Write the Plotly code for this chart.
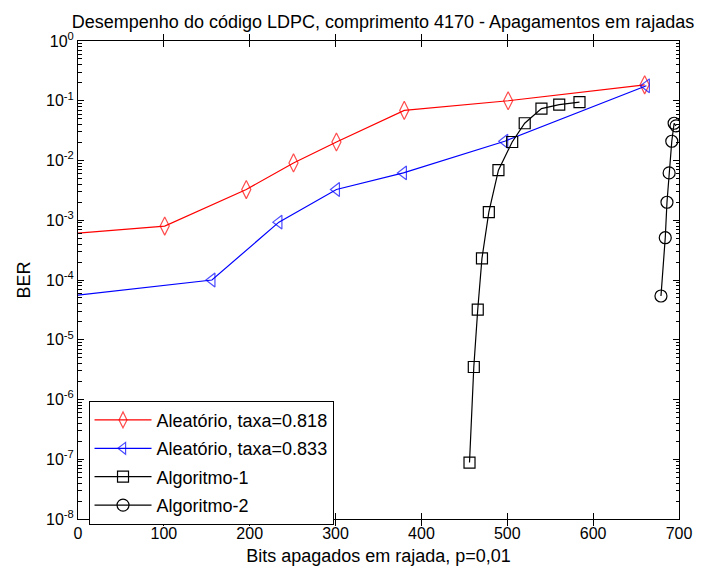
import plotly.graph_objects as go

# ---- data ----
x_r818 = [0, 101, 196, 251, 301, 380, 501, 660]
y_r818 = [6.1e-4, 8.0e-4, 3.27e-3, 9.1e-3, 2.04e-2, 6.9e-2, 1.0e-1, 1.85e-1]

x_r833 = [0, 156, 234, 301, 379, 497, 662]
y_r833 = [5.6e-5, 1.0e-4, 9.3e-4, 3.27e-3, 6.2e-3, 2.1e-2, 1.78e-1]

x_alg1 = [456, 461, 465.6, 470.5, 478.5, 489.7, 505.7, 520.3, 539.8, 560.5, 584.1]
y_alg1 = [8.8e-8, 3.5e-6, 3.2e-5, 2.3e-4, 1.37e-3, 6.9e-3, 2.04e-2, 4.2e-2, 7.4e-2, 8.6e-2, 9.5e-2]

x_alg2 = [679, 684, 686, 688.5, 691.6, 694.3, 696.5]
y_alg2 = [5.4e-5, 5.1e-4, 2.0e-3, 6.2e-3, 2.1e-2, 4.2e-2, 3.8e-2]

names = ["Aleatório, taxa=0.818", "Aleatório, taxa=0.833", "Algoritmo-1", "Algoritmo-2"]

x_ticks = [0, 100, 200, 300, 400, 500, 600, 700]
y_exps = [-8, -7, -6, -5, -4, -3, -2, -1, 0]
y_ticktext = ["10<sup>%d</sup>" % e for e in y_exps]

title_text = "Desempenho do código LDPC, comprimento 4170 - Apagamentos em rajadas"
x_title = "Bits apagados em rajada, p=0,01"
y_title = "BER"

FONT = "Liberation Sans, Arial, sans-serif"


def sizes(n, s, hide_first):
    out = [s] * n
    if hide_first:
        out[0] = 0
    return out


fig = go.Figure()
fig.add_trace(go.Scatter(x=x_r818, y=y_r818, mode="lines+markers", name=names[0],
                         legendgroup="a",
                         line=dict(color="#ff0000", width=1.2),
                         marker=dict(symbol="diamond-tall-open", size=sizes(len(x_r818), 13, True),
                                     color="#ff0000", line=dict(width=1.2))))
fig.add_trace(go.Scatter(x=x_r833, y=y_r833, mode="lines+markers", name=names[1],
                         legendgroup="b",
                         line=dict(color="#0000ff", width=1.2),
                         marker=dict(symbol="triangle-left-open", size=sizes(len(x_r833), 12, True),
                                     color="#0000ff", line=dict(width=1.2))))
fig.add_trace(go.Scatter(x=x_alg1, y=y_alg1, mode="lines+markers", name=names[2],
                         legendgroup="c",
                         line=dict(color="#000000", width=1.2),
                         marker=dict(symbol="square-open", size=11, color="#000000",
                                     line=dict(width=1.2))))
fig.add_trace(go.Scatter(x=x_alg2, y=y_alg2, mode="lines+markers", name=names[3],
                         legendgroup="d", yaxis="y2",
                         line=dict(color="#000000", width=1.2),
                         marker=dict(symbol="circle-open", size=12, color="#000000",
                                     line=dict(width=1.2))))

minor_vals = [k * 10.0 ** e for e in range(-8, 0) for k in range(2, 10)]
major_vals = [10.0 ** e for e in y_exps]

fig.update_layout(
    width=704, height=575,
    margin=dict(l=78, r=16, t=41, b=54),
    paper_bgcolor="white", plot_bgcolor="white",
    font=dict(family=FONT, size=16, color="black"),
    title=dict(text=title_text, x=(78 + 305) / 704, xanchor="center",
               y=1 - 22 / 575, yanchor="middle", font=dict(size=18)),
    showlegend=True,
    legend=dict(x=0.0175, y=0.2475, xanchor="left", yanchor="top",
                bordercolor="black", borderwidth=1, bgcolor="white",
                font=dict(size=18), tracegroupgap=2, itemwidth=57,
                entrywidth=250),
    yaxis2=dict(type="log", range=[-8, 0], overlaying="y", side="right",
                tickvals=major_vals, showticklabels=False, ticks="inside", ticklen=6,
                tickcolor="black", showline=True, linecolor="black", linewidth=1,
                showgrid=False, zeroline=False,
                minor=dict(tickvals=minor_vals, ticks="inside", ticklen=3.5,
                           tickcolor="black", showgrid=False)),
)
fig.update_xaxes(range=[0, 700], tickvals=x_ticks, ticks="inside", ticklen=6,
                 tickcolor="black", showline=True, linecolor="black", linewidth=1,
                 mirror="allticks", showgrid=False, zeroline=False,
                 title=dict(text=x_title, font=dict(size=18), standoff=8))
fig.update_layout(yaxis=dict(type="log", range=[-8, 0], tickvals=major_vals,
                             ticktext=y_ticktext, ticks="inside", ticklen=6, tickcolor="black",
                             showline=True, linecolor="black", linewidth=1, mirror="allticks",
                             showgrid=False, zeroline=False,
                             minor=dict(tickvals=minor_vals, ticks="inside", ticklen=3.5,
                                        tickcolor="black", showgrid=False),
                             title=dict(text=y_title, font=dict(size=18), standoff=10)))

fig.write_html("out.html")
